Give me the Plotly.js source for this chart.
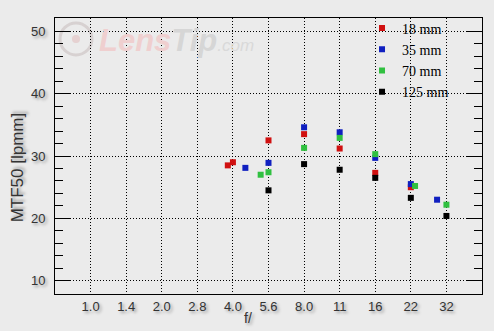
<!DOCTYPE html>
<html>
<head>
<meta charset="utf-8">
<script src="https://cdn.plot.ly/plotly-3.0.1.min.js"></script>
<style>html,body{margin:0;padding:0;background:#ebebeb;}#chart{width:494px;height:331px;}</style>
</head>
<body>
<div id="chart"></div>
<script>
// Nominal aperture stops shown on the x axis
const stopLabels = ['1.0','1.4','2.0','2.8','4.0','5.6','8.0','11','16','22','32'];
const stopValues = [1, 1.4, 2, 2.8, 4, 5.6, 8, 11, 16, 22, 32];

// Series: aperture (f-number) and MTF50 [lpmm]
const seriesNames = ['18 mm', '35 mm', '70 mm', '125 mm'];
const f18 = [3.8, 4.0, 5.6, 8, 11, 16, 22];
const mtf18 = [28.5, 29.0, 32.5, 33.5, 31.2, 27.3, 25.0];
const f35 = [4.5, 5.6, 8, 11, 16, 22, 29];
const mtf35 = [28.1, 28.9, 34.6, 33.8, 29.7, 25.5, 23.0];
const f70 = [5.2, 5.6, 8, 11, 16, 23, 32];
const mtf70 = [27.0, 27.4, 31.3, 32.9, 30.3, 25.2, 22.2];
const f125 = [5.6, 8, 11, 16, 22, 32];
const mtf125 = [24.5, 28.7, 27.8, 26.5, 23.3, 20.4];

const colors = ['#d01010', '#1020c0', '#30c040', '#000000'];

// place f-number on the stop scale (log-interpolated between nominal stops)
function stopPos(f) {
  for (let i = 0; i < stopValues.length - 1; i++) {
    const a = stopValues[i], b = stopValues[i + 1];
    if (f >= a && f <= b) return i + Math.log(f / a) / Math.log(b / a);
  }
  return stopValues.length - 1;
}

const xs = [f18, f35, f70, f125];
const ys = [mtf18, mtf35, mtf70, mtf125];
const data = seriesNames.map((n, k) => ({
  type: 'scatter', mode: 'markers', name: n,
  x: xs[k].map(stopPos), y: ys[k],
  marker: {symbol: 'square', size: 6, color: colors[k]},
  hoverinfo: 'skip'
}));

const shadow = '2px 2px 3px rgba(0,0,0,0.35)';
const tickFont = {family: 'Liberation Sans, Arial, sans-serif', size: 13, color: '#333', shadow: shadow};

const layout = {
  width: 494, height: 331,
  margin: {l: 55, r: 12, t: 18, b: 37},
  paper_bgcolor: '#ebebeb', plot_bgcolor: '#ebebeb',
  showlegend: true,
  legend: {
    x: 0.719, y: 1.02, xanchor: 'left', yanchor: 'top',
    bgcolor: 'rgba(0,0,0,0)', borderwidth: 0,
    font: {family: 'Liberation Serif, Times New Roman, serif', size: 14, color: '#000'},
    itemsizing: 'trace', tracegroupgap: 0
  },
  xaxis: {
    range: [-1, 11],
    tickmode: 'array', tickvals: stopLabels.map((s, i) => i), ticktext: stopLabels,
    ticks: '', showline: true, mirror: true, linecolor: '#000', linewidth: 1,
    showgrid: true, gridcolor: '#000', griddash: '1px,2px', gridwidth: 1,
    zeroline: false, tickfont: tickFont
  },
  yaxis: {
    range: [7.9, 52.1],
    tickmode: 'linear', tick0: 10, dtick: 10,
    ticks: 'inside', ticklen: 15, tickcolor: '#000', tickwidth: 1,
    minor: {ticks: 'inside', ticklen: 8, dtick: 2, tick0: 0, tickcolor: '#000', showgrid: false},
    showline: true, mirror: 'ticks', linecolor: '#000', linewidth: 1,
    showgrid: true, gridcolor: '#000', griddash: '1px,2px', gridwidth: 1,
    zeroline: false, tickfont: tickFont, ticklabelstandoff: 6
  },
  shapes: [{
    type: 'circle', xref: 'paper', yref: 'paper',
    x0: (60 - 55) / 427, x1: (92 - 55) / 427, y0: (294.3 - 55) / 276.3, y1: (294.3 - 23) / 276.3,
    line: {color: 'rgba(170,150,150,0.3)', width: 3}, layer: 'below'
  }, {
    type: 'circle', xref: 'paper', yref: 'paper',
    x0: (72 - 55) / 427, x1: (80 - 55) / 427, y0: (294.3 - 43) / 276.3, y1: (294.3 - 35) / 276.3,
    fillcolor: 'rgba(220,150,150,0.3)', line: {width: 0}, layer: 'below'
  }],
  annotations: [
    {text: '<b><i><span style="color:#efcfcf">Lens</span><span style="color:#d6d6d6">Tip</span></i></b><i><span style="color:#d9d9d9;font-size:17px">.com</span></i>',
     xref: 'paper', yref: 'paper', x: (97 - 55) / 427, y: (294.3 - 41) / 276.3,
     xanchor: 'left', yanchor: 'middle', showarrow: false,
     font: {family: 'Liberation Sans, Arial, sans-serif', size: 31}},
    {text: 'f/', xref: 'paper', yref: 'paper', x: (248 - 55) / 427, y: (294.3 - 318) / 276.3,
     xanchor: 'center', yanchor: 'middle', showarrow: false,
     font: {family: 'Liberation Sans, Arial, sans-serif', size: 14, color: '#333', shadow: shadow}},
    {text: 'MTF50 [lpmm]', xref: 'paper', yref: 'paper', x: (17.5 - 55) / 427, y: (294.3 - 168) / 276.3,
     xanchor: 'center', yanchor: 'middle', textangle: -90, showarrow: false,
     font: {family: 'Liberation Sans, Arial, sans-serif', size: 17, color: '#333', shadow: shadow}}
  ]
};

Plotly.newPlot('chart', data, layout, {displayModeBar: false, staticPlot: true});
</script>
</body>
</html>
